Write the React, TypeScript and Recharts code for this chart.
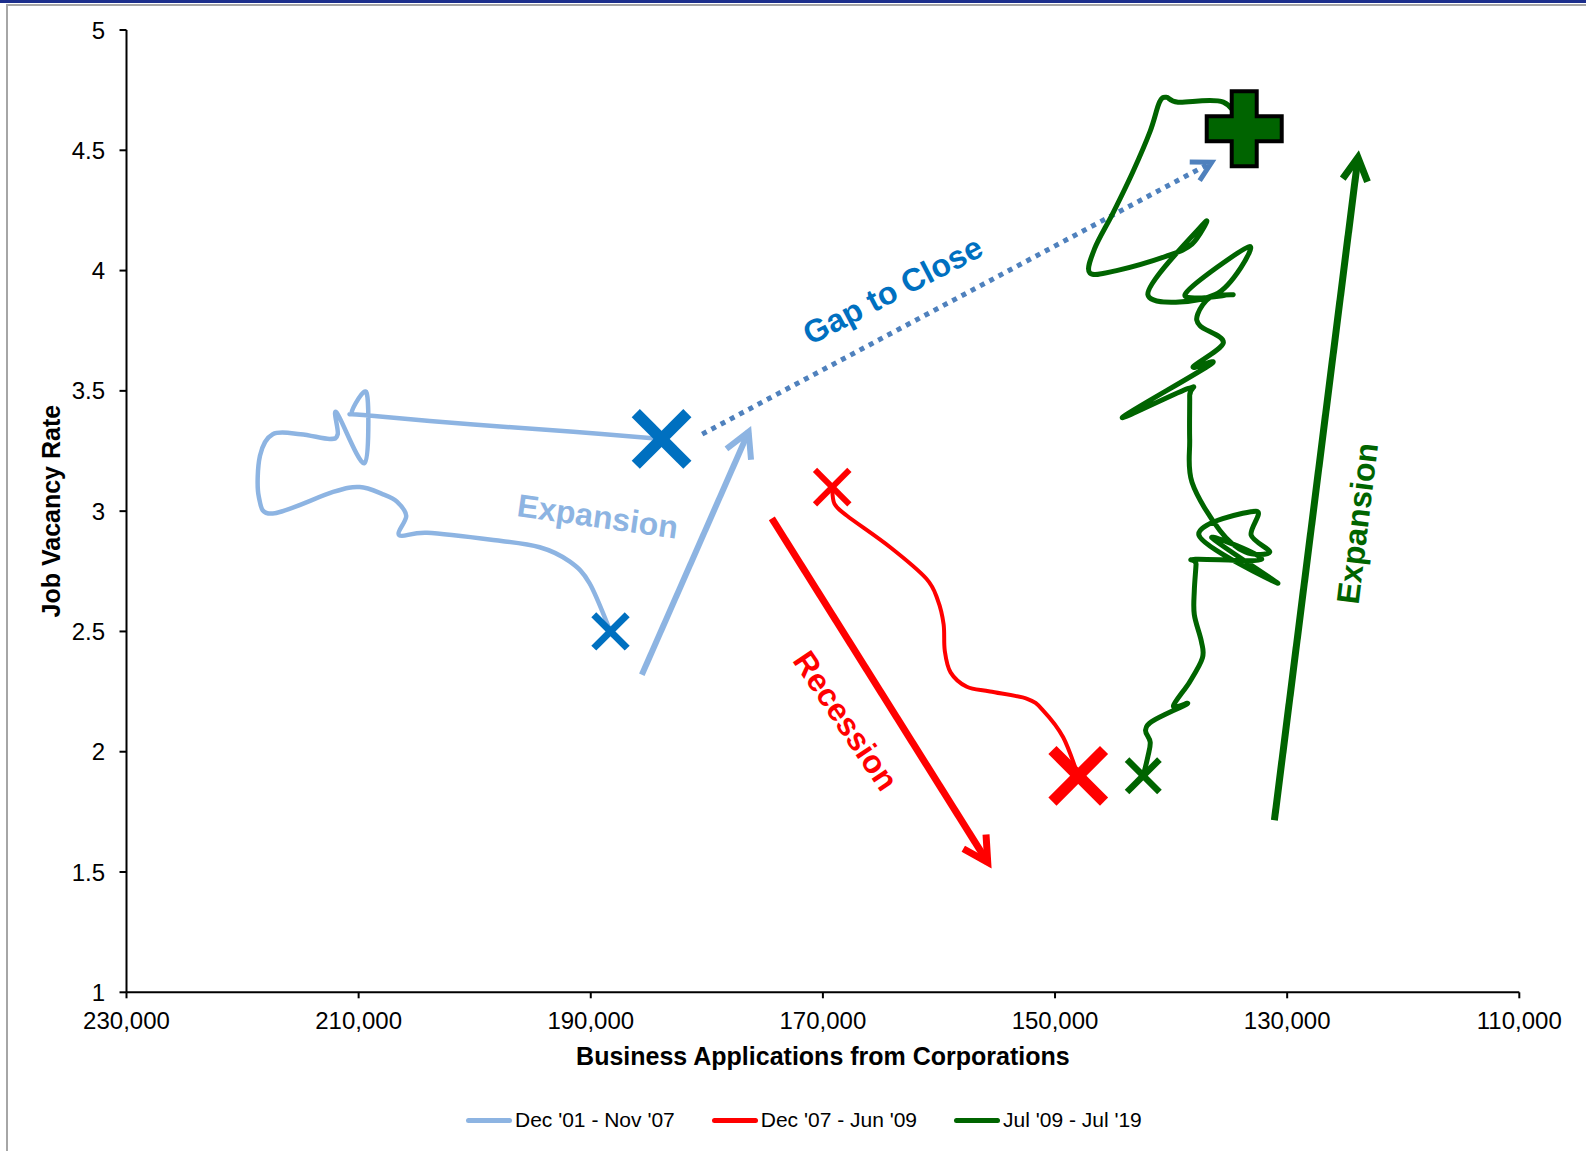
import React from 'react';
import {
  ComposedChart,
  Line,
  Scatter,
  XAxis,
  YAxis,
  ReferenceLine,
  ReferenceDot,
  Legend,
  Label,
} from 'recharts';

type Pt = { x: number; y: number };

const FONT = '"Liberation Sans", Arial, Helvetica, sans-serif';

// ---------- axes ----------
const xTicks = [230000, 210000, 190000, 170000, 150000, 130000, 110000];
const yTicks = [1, 1.5, 2, 2.5, 3, 3.5, 4, 4.5, 5];
const xTitle = 'Business Applications from Corporations';
const yTitle = 'Job Vacancy Rate';

// ---------- series ----------
const seriesNames = ["Dec '01 - Nov '07", "Dec '07 - Jun '09", "Jul '09 - Jul '19"];
const seriesColors = ['#8DB4E2', '#FF0000', '#006400'];

const dec01Nov07: Pt[] = [
  { x: 188300, y: 2.5 },
  { x: 190100, y: 2.7 },
  { x: 191800, y: 2.79 },
  { x: 194400, y: 2.85 },
  { x: 198400, y: 2.88 },
  { x: 204100, y: 2.91 },
  { x: 206500, y: 2.9 },
  { x: 205900, y: 2.98 },
  { x: 206700, y: 3.04 },
  { x: 207900, y: 3.07 },
  { x: 209900, y: 3.1 },
  { x: 212200, y: 3.08 },
  { x: 217400, y: 2.99 },
  { x: 218600, y: 3.06 },
  { x: 218500, y: 3.23 },
  { x: 217400, y: 3.32 },
  { x: 215000, y: 3.32 },
  { x: 212500, y: 3.3 },
  { x: 211800, y: 3.32 },
  { x: 211900, y: 3.41 },
  { x: 209500, y: 3.2 },
  { x: 209300, y: 3.49 },
  { x: 210600, y: 3.41 },
  { x: 209600, y: 3.4 },
  { x: 200100, y: 3.36 },
  { x: 191500, y: 3.33 },
  { x: 183900, y: 3.3 },
];

const dec07Jun09: Pt[] = [
  { x: 169200, y: 3.1 },
  { x: 169000, y: 3.03 },
  { x: 167900, y: 2.98 },
  { x: 164200, y: 2.85 },
  { x: 161100, y: 2.72 },
  { x: 160100, y: 2.63 },
  { x: 159600, y: 2.53 },
  { x: 159500, y: 2.42 },
  { x: 159000, y: 2.33 },
  { x: 157600, y: 2.27 },
  { x: 155600, y: 2.25 },
  { x: 152400, y: 2.22 },
  { x: 151000, y: 2.17 },
  { x: 149300, y: 2.06 },
  { x: 148000, y: 1.9 },
];

const jul09Jul19: Pt[] = [
  { x: 142400, y: 1.9 },
  { x: 142000, y: 1.98 },
  { x: 141800, y: 2.04 },
  { x: 142200, y: 2.09 },
  { x: 141500, y: 2.13 },
  { x: 138600, y: 2.2 },
  { x: 139800, y: 2.19 },
  { x: 138400, y: 2.29 },
  { x: 137300, y: 2.39 },
  { x: 137400, y: 2.46 },
  { x: 138000, y: 2.57 },
  { x: 138000, y: 2.67 },
  { x: 137850, y: 2.78 },
  { x: 137900, y: 2.8 },
  { x: 132200, y: 2.8 },
  { x: 136500, y: 2.89 },
  { x: 130800, y: 2.7 },
  { x: 137600, y: 2.9 },
  { x: 132700, y: 3.0 },
  { x: 133100, y: 2.9 },
  { x: 131500, y: 2.83 },
  { x: 133600, y: 2.83 },
  { x: 135800, y: 2.92 },
  { x: 138200, y: 3.12 },
  { x: 138400, y: 3.3 },
  { x: 138400, y: 3.48 },
  { x: 138500, y: 3.51 },
  { x: 144200, y: 3.39 },
  { x: 136600, y: 3.61 },
  { x: 138100, y: 3.6 },
  { x: 135500, y: 3.7 },
  { x: 137500, y: 3.77 },
  { x: 137700, y: 3.82 },
  { x: 136600, y: 3.89 },
  { x: 134700, y: 3.9 },
  { x: 138800, y: 3.9 },
  { x: 133200, y: 4.1 },
  { x: 136200, y: 3.9 },
  { x: 142000, y: 3.9 },
  { x: 137100, y: 4.2 },
  { x: 138200, y: 4.11 },
  { x: 140400, y: 4.06 },
  { x: 144700, y: 4.0 },
  { x: 147000, y: 3.99 },
  { x: 146600, y: 4.09 },
  { x: 145000, y: 4.24 },
  { x: 143300, y: 4.41 },
  { x: 141800, y: 4.58 },
  { x: 141000, y: 4.7 },
  { x: 140400, y: 4.72 },
  { x: 139400, y: 4.7 },
  { x: 135500, y: 4.7 },
  { x: 133700, y: 4.59 },
];

// ---------- annotation arrows ----------
const expansionArrow1: Pt[] = [
  { x: 185600, y: 2.32 },
  { x: 176400, y: 3.33 },
];
const gapArrow: Pt[] = [
  { x: 180400, y: 3.32 },
  { x: 136500, y: 4.45 },
];
const recessionArrow: Pt[] = [
  { x: 174400, y: 2.97 },
  { x: 155800, y: 1.54 },
];
const expansionArrow2: Pt[] = [
  { x: 131100, y: 1.715 },
  { x: 123900, y: 4.47 },
];

// ---------- annotation texts ----------
const annotationTexts = ['Expansion', 'Gap to Close', 'Recession', 'Expansion'];
const annotationPoints: Pt[] = [
  { x: 189400, y: 2.98 },
  { x: 164000, y: 3.92 },
  { x: 168000, y: 2.13 },
  { x: 124000, y: 2.95 },
];
const annotationAngles = [8, -27.5, 56, -83];
const annotationColors = ['#8DB4E2', '#0070C0', '#FF0000', '#006400'];

// ---------- helpers ----------
// Excel-like smoothed line (Catmull-Rom through the points)
function excelSmooth(context: any) {
  let pts: number[][] = [];
  return {
    areaStart() {},
    areaEnd() {},
    lineStart() {
      pts = [];
    },
    point(x: number, y: number) {
      pts.push([+x, +y]);
    },
    lineEnd() {
      const n = pts.length;
      if (!n) return;
      context.moveTo(pts[0][0], pts[0][1]);
      const t = 1 / 6;
      for (let i = 0; i < n - 1; i++) {
        const p0 = pts[i - 1] || pts[i];
        const p1 = pts[i];
        const p2 = pts[i + 1];
        const p3 = pts[i + 2] || p2;
        context.bezierCurveTo(
          p1[0] + (p2[0] - p0[0]) * t,
          p1[1] + (p2[1] - p0[1]) * t,
          p2[0] - (p3[0] - p1[0]) * t,
          p2[1] - (p3[1] - p1[1]) * t,
          p2[0],
          p2[1]
        );
      }
    },
  };
}

const xMark = (size: number, width: number, color: string) => (props: any) => {
  const { cx, cy } = props;
  if (cx == null || cy == null) return <g />;
  return (
    <g>
      <line x1={cx - size} y1={cy - size} x2={cx + size} y2={cy + size} stroke={color} strokeWidth={width} />
      <line x1={cx - size} y1={cy + size} x2={cx + size} y2={cy - size} stroke={color} strokeWidth={width} />
    </g>
  );
};

const plusMark = (props: any) => {
  const { cx, cy } = props;
  if (cx == null || cy == null) return <g />;
  const R = 37.5;
  const t = 12.5;
  const d = `M${cx - t},${cy - R} H${cx + t} V${cy - t} H${cx + R} V${cy + t} H${cx + t} V${cy + R} H${cx - t} V${cy + t} H${cx - R} V${cy - t} H${cx - t} Z`;
  return <path d={d} fill="#006400" stroke="#000" strokeWidth={4} strokeLinejoin="miter" />;
};

const arrowShape = (color: string, width: number, head: number, dash?: string) => (props: any) => {
  const { x1, y1, x2, y2 } = props;
  if ([x1, y1, x2, y2].some((v) => v == null || isNaN(v))) return <g />;
  const ang = Math.atan2(y2 - y1, x2 - x1);
  const spread = 0.5;
  const hx1 = x2 - head * Math.cos(ang - spread);
  const hy1 = y2 - head * Math.sin(ang - spread);
  const hx2 = x2 - head * Math.cos(ang + spread);
  const hy2 = y2 - head * Math.sin(ang + spread);
  return (
    <g>
      <line x1={x1} y1={y1} x2={x2} y2={y2} stroke={color} strokeWidth={width} strokeDasharray={dash} />
      <polyline
        points={`${hx1},${hy1} ${x2},${y2} ${hx2},${hy2}`}
        fill="none"
        stroke={color}
        strokeWidth={width}
        strokeLinejoin="miter"
      />
    </g>
  );
};

const textShape = (text: string, angle: number, color: string, size: number) => (props: any) => {
  const { cx, cy } = props;
  if (cx == null || cy == null) return <g />;
  return (
    <text
      transform={`translate(${cx},${cy}) rotate(${angle})`}
      textAnchor="middle"
      dy={size * 0.36}
      fill={color}
      fontSize={size}
      fontWeight="bold"
      fontFamily={FONT}
    >
      {text}
    </text>
  );
};

const renderXTitle = (props: any) => {
  const vb = props.viewBox || {};
  return (
    <text
      x={vb.x + vb.width / 2}
      y={vb.y + 72.5}
      textAnchor="middle"
      fontSize={25}
      fontWeight="bold"
      fontFamily={FONT}
      fill="#000"
    >
      {xTitle}
    </text>
  );
};

const renderYTitle = (props: any) => {
  const vb = props.viewBox || {};
  const x = vb.x + 59.6;
  const y = vb.y + vb.height / 2;
  return (
    <text
      transform={`translate(${x},${y}) rotate(-90)`}
      textAnchor="middle"
      fontSize={25}
      fontWeight="bold"
      fontFamily={FONT}
      fill="#000"
    >
      {yTitle}
    </text>
  );
};

const renderLegend = () => (
  <div
    style={{
      height: 40,
      display: 'flex',
      alignItems: 'center',
      paddingLeft: 466,
      fontFamily: FONT,
      fontSize: 21,
      color: '#000',
      whiteSpace: 'nowrap',
    }}
  >
    {seriesNames.map((n, i) => (
      <div key={n} style={{ display: 'flex', alignItems: 'center', marginRight: 37 }}>
        <div style={{ width: 46, height: 5, borderRadius: 3, background: seriesColors[i], marginRight: 3 }} />
        <span>{n}</span>
      </div>
    ))}
  </div>
);

const fmtX = (v: number) => v.toLocaleString('en-US');

const W = 1586;
const H = 1151;

export default function App() {
  const arrows = [
    { seg: expansionArrow1, shape: arrowShape('#8DB4E2', 6, 28) },
    { seg: gapArrow, shape: arrowShape('#4F81BD', 5, 22, '5 5.5') },
    { seg: recessionArrow, shape: arrowShape('#FF0000', 7, 28) },
    { seg: expansionArrow2, shape: arrowShape('#006400', 7, 26) },
  ];
  return (
    <div style={{ position: 'absolute', left: 0, top: 0, width: W, height: H, background: '#fff', overflow: 'hidden' }}>
      <div style={{ position: 'absolute', left: 0, top: 0, width: W, height: 3, background: '#1C2E8C' }} />
      <div
        style={{
          position: 'absolute',
          left: 6,
          top: 4,
          width: W,
          height: H,
          borderLeft: '2px solid #A6A6A6',
          borderTop: '2px solid #A6A6A6',
        }}
      />
      <div style={{ position: 'absolute', left: 0, top: 0 }}>
        <ComposedChart width={W} height={H} margin={{ top: 30, right: 66.7, bottom: 11, left: 0 }} style={{ fontFamily: FONT }}>
          <XAxis
            type="number"
            dataKey="x"
            domain={[110000, 230000]}
            reversed
            allowDataOverflow
            ticks={xTicks}
            interval={0}
            tickFormatter={fmtX}
            height={107.7}
            tickSize={6}
            tickMargin={14}
            axisLine={{ stroke: '#000', strokeWidth: 2 }}
            tickLine={{ stroke: '#000', strokeWidth: 2 }}
            tick={{ fill: '#000', fontSize: 24, fontFamily: FONT }}
          >
            <Label content={renderXTitle} />
          </XAxis>
          <YAxis
            type="number"
            dataKey="y"
            domain={[1, 5]}
            allowDataOverflow
            ticks={yTicks}
            interval={0}
            width={126.5}
            tickSize={7}
            tickMargin={14.5}
            axisLine={{ stroke: '#000', strokeWidth: 2 }}
            tickLine={{ stroke: '#000', strokeWidth: 2 }}
            tick={{ fill: '#000', fontSize: 24, fontFamily: FONT }}
          >
            <Label content={renderYTitle} />
          </YAxis>
          <Legend verticalAlign="bottom" align="left" content={renderLegend} />

          {arrows.map((a, i) => (
            <ReferenceLine key={`arrow-${i}`} segment={a.seg} ifOverflow="visible" shape={a.shape} />
          ))}
          {annotationTexts.map((t, i) => (
            <ReferenceDot
              key={`ann-${i}`}
              x={annotationPoints[i].x}
              y={annotationPoints[i].y}
              r={1}
              ifOverflow="visible"
              shape={textShape(t, annotationAngles[i], annotationColors[i], 32)}
            />
          ))}

          <Line
            data={dec01Nov07}
            dataKey="y"
            name={seriesNames[0]}
            type={excelSmooth as any}
            stroke={seriesColors[0]}
            strokeWidth={4.5}
            dot={false}
            activeDot={false}
            isAnimationActive={false}
          />
          <Line
            data={dec07Jun09}
            dataKey="y"
            name={seriesNames[1]}
            type={excelSmooth as any}
            stroke={seriesColors[1]}
            strokeWidth={4}
            dot={false}
            activeDot={false}
            isAnimationActive={false}
          />
          <Line
            data={jul09Jul19}
            dataKey="y"
            name={seriesNames[2]}
            type={excelSmooth as any}
            stroke={seriesColors[2]}
            strokeWidth={5}
            dot={false}
            activeDot={false}
            isAnimationActive={false}
          />

          <Scatter data={[dec01Nov07[0]]} dataKey="y" legendType="none" shape={xMark(16.7, 7, '#0070C0')} isAnimationActive={false} />
          <Scatter
            data={[dec01Nov07[dec01Nov07.length - 1]]}
            dataKey="y"
            legendType="none"
            shape={xMark(25.8, 11.5, '#0070C0')}
            isAnimationActive={false}
          />
          <Scatter data={[dec07Jun09[0]]} dataKey="y" legendType="none" shape={xMark(17.2, 6, '#FF0000')} isAnimationActive={false} />
          <Scatter
            data={[dec07Jun09[dec07Jun09.length - 1]]}
            dataKey="y"
            legendType="none"
            shape={xMark(25.8, 11.5, '#FF0000')}
            isAnimationActive={false}
          />
          <Scatter data={[jul09Jul19[0]]} dataKey="y" legendType="none" shape={xMark(16.2, 6.5, '#006400')} isAnimationActive={false} />
          <Scatter
            data={[jul09Jul19[jul09Jul19.length - 1]]}
            dataKey="y"
            legendType="none"
            shape={plusMark}
            isAnimationActive={false}
          />
        </ComposedChart>
      </div>
    </div>
  );
}
